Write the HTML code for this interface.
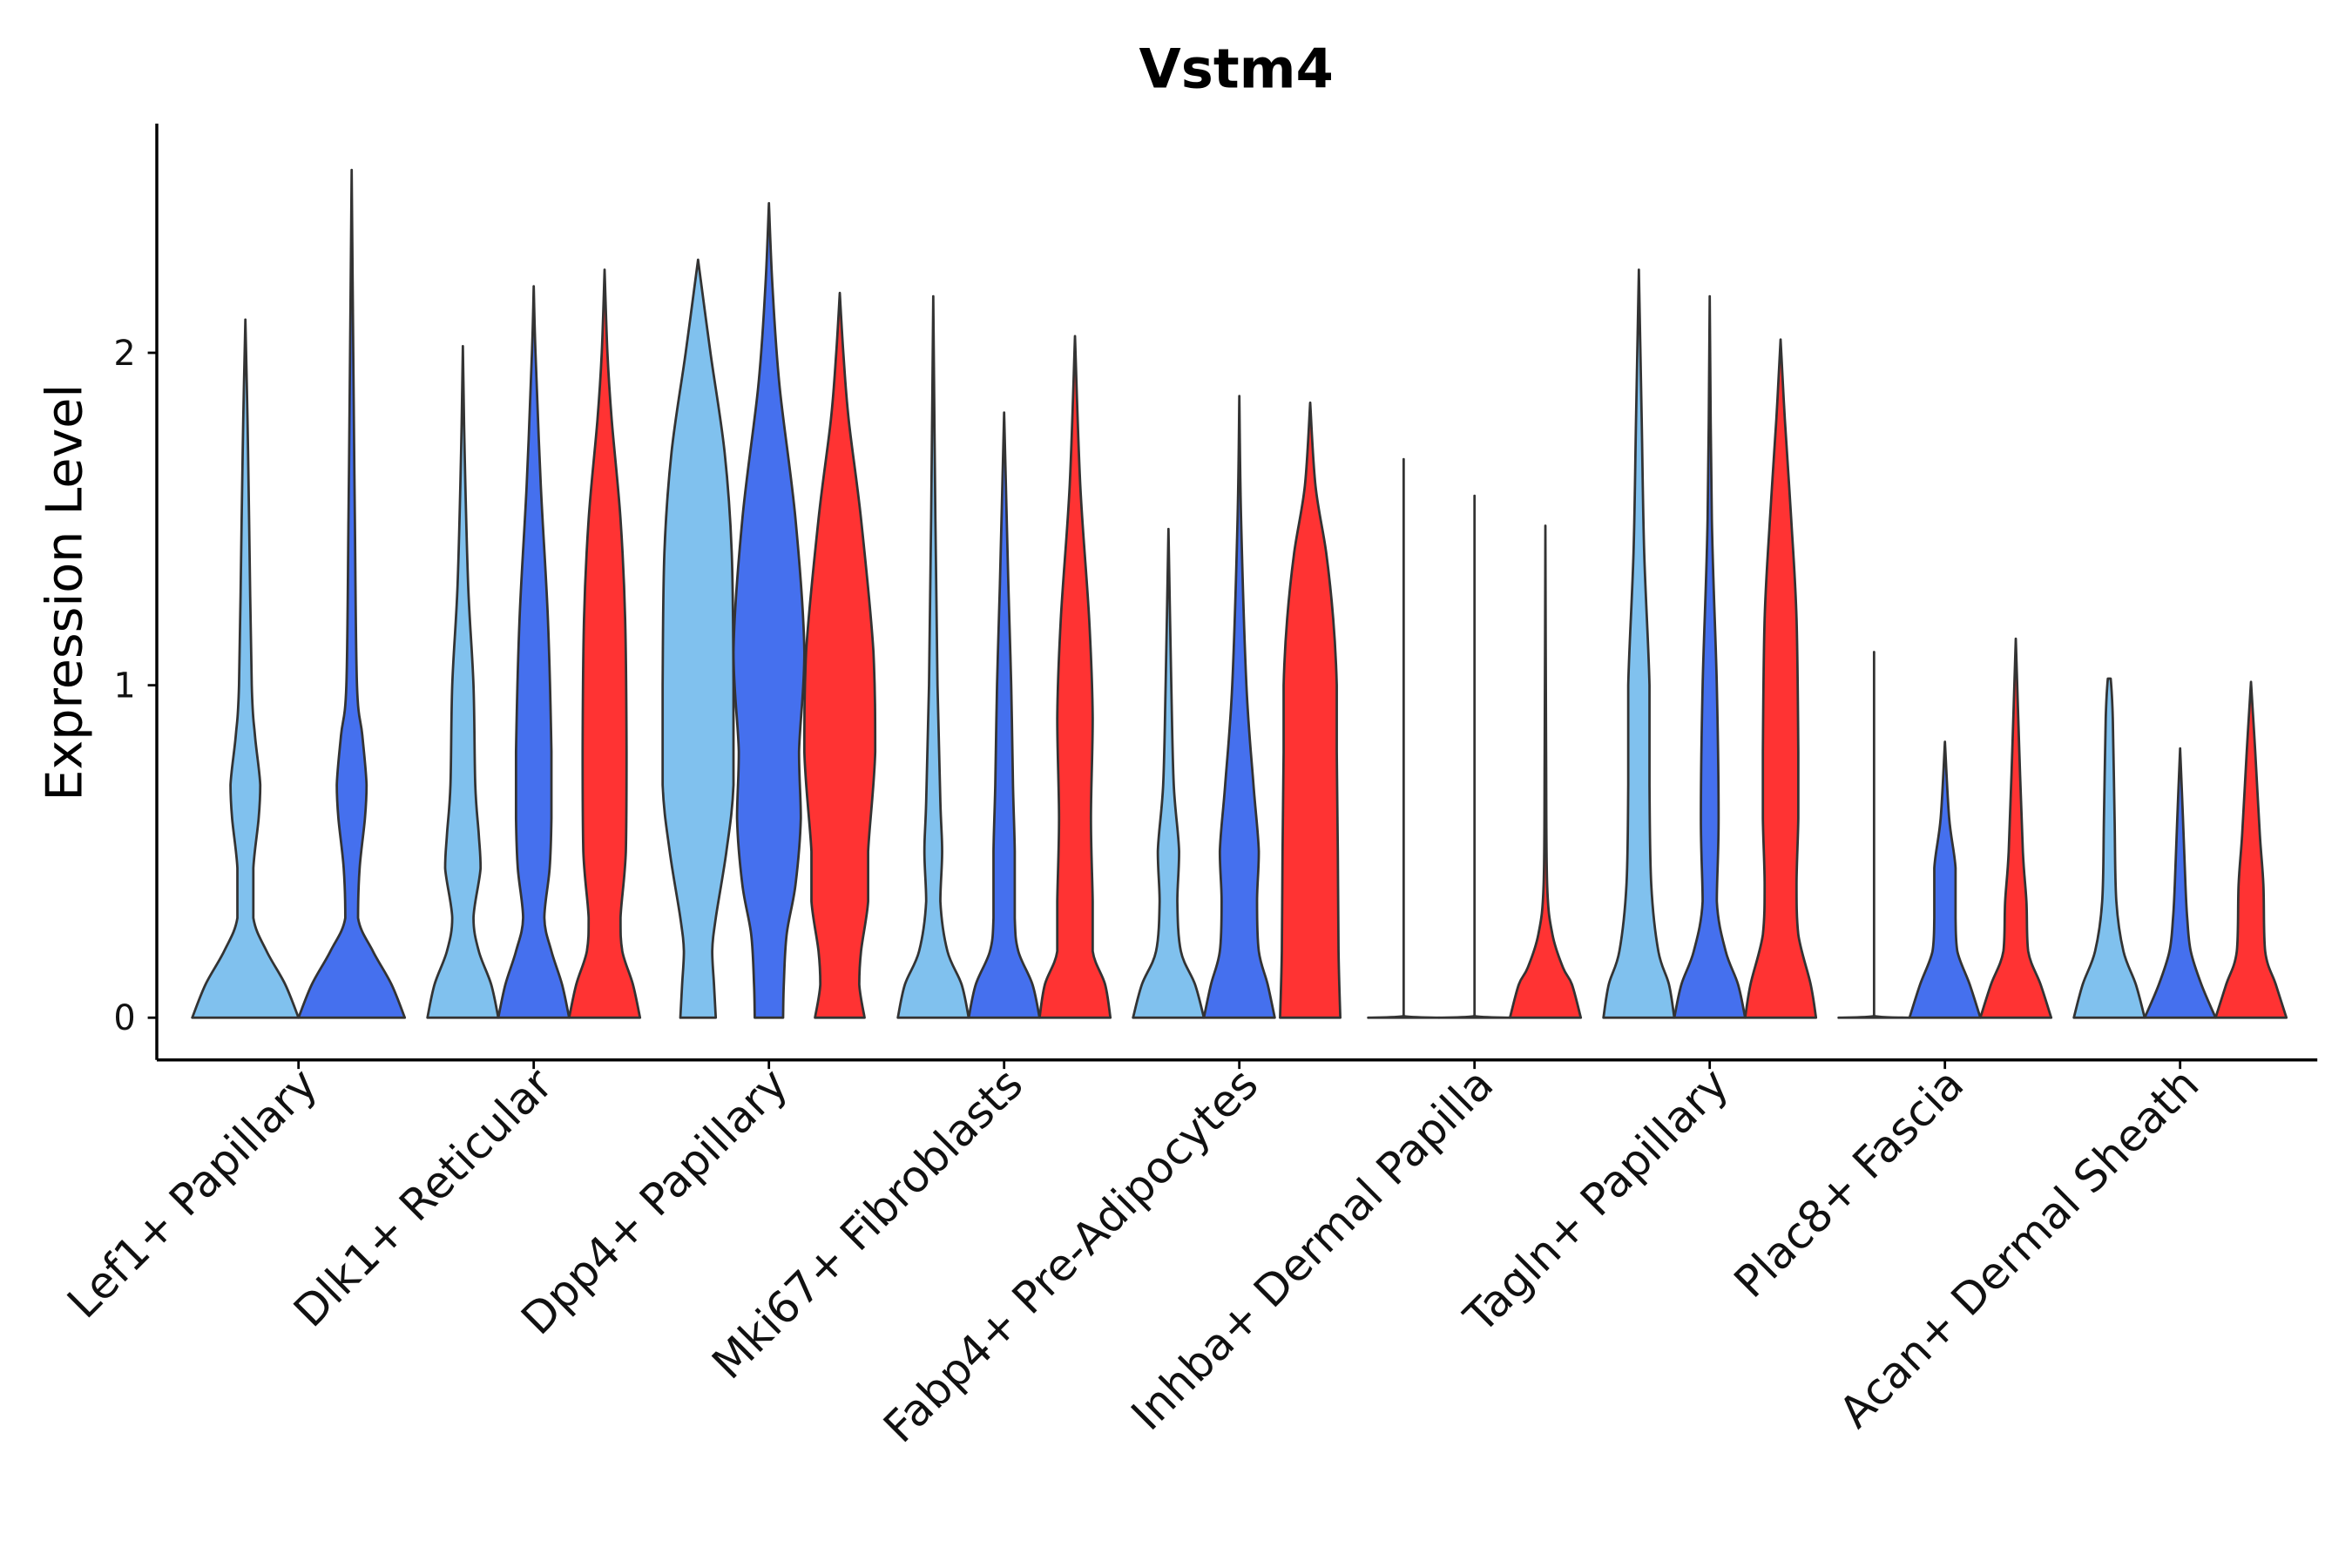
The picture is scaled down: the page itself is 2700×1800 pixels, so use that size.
<!DOCTYPE html>
<html><head><meta charset="utf-8"><style>
html,body{margin:0;padding:0;background:#fff;}
svg{display:block;font-family:"DejaVu Sans","Liberation Sans",sans-serif;}
</style></head><body>
<svg id="chart" width="2700" height="1800" viewBox="0 0 1560 1040" xmlns="http://www.w3.org/2000/svg">
<rect width="1560" height="1040" fill="#fff"/>
<text x="820" y="58" text-anchor="middle" font-size="36" font-weight="bold">Vstm4</text>
<text transform="translate(54,393) rotate(-90)" text-anchor="middle" font-size="33">Expression Level</text>
<g id="violins"></g>
<g id="axes"></g>
</svg>
<script>
const categories = ["Lef1+ Papillary","Dlk1+ Reticular","Dpp4+ Papillary","Mki67+ Fibroblasts","Fabp4+ Pre-Adipocytes","Inhba+ Dermal Papilla","Tagln+ Papillary","Plac8+ Fascia","Acan+ Dermal Sheath"];
const yTicks = [0,1,2];
const seriesNames = ["light","blue","red"];
const seriesColors = {light:"#80C1EE",blue:"#4570EE",red:"#FF3333"};
// profiles: [value, relative half-width]
const lef1 = [
 ["light",[[0,1],[0.1,0.75],[0.2,0.4],[0.3,0.15],[0.45,0.15],[0.6,0.25],[0.7,0.28],[0.85,0.18],[1.0,0.12],[1.5,0.07],[1.8,0.04],[2.1,0]]],
 ["blue",[[0,1],[0.1,0.75],[0.2,0.4],[0.3,0.12],[0.45,0.15],[0.6,0.25],[0.7,0.28],[0.85,0.2],[1.0,0.1],[1.5,0.06],[2.0,0.03],[2.55,0]]]];
const dlk1 = [
 ["light",[[0,1],[0.1,0.8],[0.2,0.45],[0.3,0.3],[0.45,0.5],[0.55,0.45],[0.7,0.35],[1,0.3],[1.3,0.15],[1.7,0.05],[2.02,0]]],
 ["blue",[[0,1],[0.1,0.8],[0.2,0.5],[0.3,0.3],[0.45,0.45],[0.6,0.5],[0.8,0.5],[1.2,0.4],[1.6,0.2],[2.0,0.05],[2.2,0]]],
 ["red",[[0,1],[0.1,0.8],[0.2,0.5],[0.3,0.45],[0.5,0.6],[0.8,0.62],[1.2,0.58],[1.5,0.45],[1.8,0.2],[2.0,0.08],[2.25,0]]]];
const dpp4 = [
 ["light",[[0,0.5],[0.1,0.45],[0.2,0.4],[0.3,0.5],[0.5,0.8],[0.7,1],[1.0,1],[1.4,0.95],[1.7,0.75],[2.0,0.35],[2.28,0]]],
 ["blue",[[0,0.4],[0.1,0.42],[0.25,0.5],[0.4,0.75],[0.6,0.9],[0.8,0.85],[1.1,1],[1.5,0.75],[1.9,0.3],[2.2,0.1],[2.45,0]]],
 ["red",[[0,0.7],[0.1,0.55],[0.2,0.6],[0.35,0.8],[0.5,0.8],[0.8,1],[1.1,0.95],[1.5,0.6],[1.8,0.25],[2.0,0.1],[2.18,0]]]];
const mki67 = [
 ["light",[[0,1],[0.1,0.8],[0.2,0.4],[0.35,0.2],[0.5,0.25],[0.65,0.2],[1.0,0.12],[1.5,0.06],[2.17,0]]],
 ["blue",[[0,1],[0.1,0.8],[0.2,0.4],[0.3,0.3],[0.5,0.3],[0.7,0.25],[1.0,0.2],[1.3,0.12],[1.82,0]]],
 ["red",[[0,1],[0.1,0.85],[0.2,0.5],[0.35,0.5],[0.6,0.45],[0.9,0.5],[1.2,0.4],[1.6,0.15],[2.05,0]]]];
const fabp4 = [
 ["light",[[0,1],[0.1,0.75],[0.2,0.35],[0.35,0.25],[0.5,0.3],[0.7,0.15],[1.0,0.08],[1.47,0]]],
 ["blue",[[0,1],[0.1,0.8],[0.2,0.55],[0.35,0.5],[0.5,0.55],[0.7,0.4],[1.0,0.2],[1.5,0.05],[1.87,0]]],
 ["red",[[0,0.85],[0.2,0.8],[0.5,0.78],[0.8,0.75],[1.0,0.75],[1.2,0.65],[1.4,0.45],[1.6,0.15],[1.85,0]]]];
const inhba = [
 ["light",[[0,1],[0.005,0],[1.68,0]]],
 ["blue",[[0,1],[0.005,0],[1.57,0]]],
 ["red",[[0,1],[0.1,0.75],[0.15,0.5],[0.25,0.2],[0.4,0.05],[0.8,0.02],[1.48,0]]]];
const tagln = [
 ["light",[[0,1],[0.1,0.85],[0.2,0.55],[0.4,0.35],[0.7,0.3],[1.0,0.3],[1.4,0.15],[1.8,0.08],[2.25,0]]],
 ["blue",[[0,1],[0.1,0.8],[0.2,0.45],[0.35,0.2],[0.6,0.25],[1.0,0.2],[1.5,0.06],[2.17,0]]],
 ["red",[[0,1],[0.1,0.85],[0.25,0.5],[0.4,0.45],[0.6,0.5],[0.8,0.5],[1.2,0.45],[1.5,0.3],[1.8,0.12],[2.04,0]]]];
const plac8 = [
 ["light",[[0,1],[0.005,0],[1.1,0]]],
 ["blue",[[0,1],[0.1,0.7],[0.2,0.35],[0.3,0.3],[0.45,0.3],[0.6,0.12],[0.83,0]]],
 ["red",[[0,1],[0.1,0.7],[0.2,0.35],[0.35,0.3],[0.5,0.2],[0.8,0.1],[1.14,0]]]];
const acan = [
 ["light",[[0,1],[0.1,0.75],[0.2,0.4],[0.35,0.2],[0.6,0.15],[0.9,0.1],[1.02,0.04],[1.02,0]]],
 ["blue",[[0,1],[0.1,0.6],[0.2,0.3],[0.3,0.2],[0.4,0.15],[0.6,0.08],[0.81,0]]],
 ["red",[[0,1],[0.1,0.7],[0.2,0.4],[0.4,0.35],[0.55,0.25],[0.8,0.12],[1.01,0]]]];
const groups = [lef1,dlk1,dpp4,mki67,fabp4,inhba,tagln,plac8,acan];

const NS="http://www.w3.org/2000/svg";
const X0=104, XEND=1537, YTOP=82, YBASE=703;
const yScale = v => 675 - v*220.5;
const xScale = i => 198 + i*156;
const GROUP_W = 141;

function clamp(v,a,b){const lo=Math.min(a,b),hi=Math.max(a,b);return Math.max(lo,Math.min(hi,v));}
function smoothPath(pts){
  let d="";
  for(let i=0;i<pts.length-1;i++){
    const p0=pts[Math.max(0,i-1)],p1=pts[i],p2=pts[i+1],p3=pts[Math.min(pts.length-1,i+2)];
    const c1=[clamp(p1[0]+(p2[0]-p0[0])/6,p1[0],p2[0]),clamp(p1[1]+(p2[1]-p0[1])/6,p1[1],p2[1])];
    const c2=[clamp(p2[0]-(p3[0]-p1[0])/6,p1[0],p2[0]),clamp(p2[1]-(p3[1]-p1[1])/6,p1[1],p2[1])];
    if(i===0) d+="M"+p1[0].toFixed(2)+","+p1[1].toFixed(2);
    d+="C"+c1[0].toFixed(2)+","+c1[1].toFixed(2)+" "+c2[0].toFixed(2)+","+c2[1].toFixed(2)+" "+p2[0].toFixed(2)+","+p2[1].toFixed(2);
  }
  return d;
}

const vg=document.getElementById("violins");
groups.forEach((grp,gi)=>{
  const n=grp.length, w=GROUP_W/n, half=w/2;
  grp.forEach((v,vi)=>{
    const cx=xScale(gi)-GROUP_W/2+w*(vi+0.5);
    const prof=v[1];
    const right=prof.map(p=>[cx+p[1]*half,yScale(p[0])]);
    const left=prof.slice().reverse().map(p=>[cx-p[1]*half,yScale(p[0])]);
    let d=smoothPath(right);
    d+=smoothPath(left).replace(/^M[^C]*/,"L"+left[0][0].toFixed(2)+","+left[0][1].toFixed(2));
    d+="Z";
    const path=document.createElementNS(NS,"path");
    path.setAttribute("d",d);
    path.setAttribute("fill",seriesColors[v[0]]);
    path.setAttribute("stroke","#333");
    path.setAttribute("stroke-width","1.6");
    path.setAttribute("stroke-linejoin","round");
    
    
    vg.appendChild(path);
  });
});

const ag=document.getElementById("axes");
function el(tag,attrs,text){const e=document.createElementNS(NS,tag);for(const k in attrs)e.setAttribute(k,attrs[k]);if(text!=null)e.textContent=text;ag.appendChild(e);return e;}
const yAxis=el("line",{x1:X0,y1:YTOP,x2:X0,y2:YBASE,stroke:"#000","stroke-width":2});


const xAxis=el("line",{x1:X0,y1:YBASE,x2:XEND,y2:YBASE,stroke:"#000","stroke-width":2});


yTicks.forEach(t=>{
  const y=yScale(t);
  const tk=el("line",{x1:X0-6,y1:y,x2:X0,y2:y,stroke:"#000","stroke-width":1.6});
  
  
  const lb=el("text",{x:X0-14,y:y+8,"text-anchor":"end","font-size":23,fill:"#111"},String(t));
  
  
});
categories.forEach((c,i)=>{
  const x=xScale(i);
  const tk=el("line",{x1:x,y1:YBASE,x2:x,y2:YBASE+6,stroke:"#000","stroke-width":1.6});
  
  
  const lb=el("text",{transform:"translate("+(x+14)+","+(YBASE+18)+") rotate(-45)","text-anchor":"end","font-size":29,fill:"#111"},c);
  
  
});
</script>
</body></html>
